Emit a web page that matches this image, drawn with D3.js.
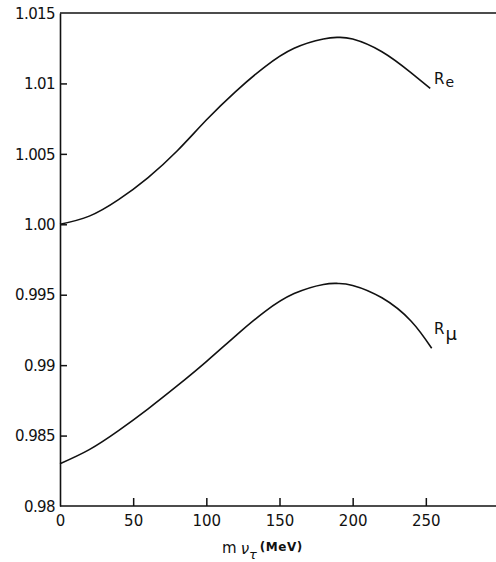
<!DOCTYPE html>
<html><head><meta charset="utf-8">
<script src="https://cdn.jsdelivr.net/npm/d3@7"></script>
<style>
html,body{margin:0;padding:0;background:#fff;}
svg{display:block;}
text{font-family:"DejaVu Sans",sans-serif;fill:#111;}
</style></head>
<body>
<script>
// Data
const massRe = [0, 20, 40, 60, 80, 100, 120, 140, 160, 180, 190, 200, 220, 240, 253];
const valRe  = [1.0000, 1.00058, 1.00175, 1.00330, 1.00520, 1.00740, 1.00942, 1.01118, 1.01250, 1.01316, 1.01327, 1.01315, 1.01225, 1.01075, 1.00965];
const massMu = [0, 20, 40, 60, 80, 100, 120, 140, 160, 180, 190, 200, 220, 240, 254];
const valMu  = [0.98300, 0.98400, 0.98535, 0.98688, 0.98852, 0.99025, 0.99208, 0.99380, 0.99508, 0.99573, 0.99580, 0.99566, 0.99478, 0.99312, 0.99120];
const yTicks = [1.015, 1.01, 1.005, 1.00, 0.995, 0.99, 0.985, 0.98];
const yTickLabels = ["1.015", "1.01", "1.005", "1.00", "0.995", "0.99", "0.985", "0.98"];
const xTicks = [0, 50, 100, 150, 200, 250];
const xTickLabels = ["0", "50", "100", "150", "200", "250"];

const W = 496, H = 562;
const svg = d3.select("body").append("svg").attr("width", W).attr("height", H);

const x = d3.scaleLinear().domain([0, 300]).range([60, 499]);
const y = d3.scaleLinear().domain([0.98, 1.015]).range([506, 13]);

// top frame line
svg.append("line").attr("x1", 60).attr("x2", W).attr("y1", y(1.015)).attr("y2", y(1.015))
  .attr("stroke", "#111").attr("stroke-width", 1.6);

// Y axis
const yAxis = d3.axisLeft(y).tickValues(yTicks)
  .tickFormat((d, i) => yTickLabels[i]).tickSize(-7).tickSizeOuter(0).tickPadding(6);
const gy = svg.append("g").attr("transform", `translate(${x(0)},0)`).call(yAxis);
gy.select(".domain").attr("stroke", "#111").attr("stroke-width", 1.6);
gy.selectAll(".tick line").attr("stroke", "#111").attr("stroke-width", 1.5)
  .attr("display", d => (d === 1.015 || d === 0.98) ? "none" : null);
gy.selectAll(".tick text").attr("font-size", 15).attr("font-family", "DejaVu Sans")
  .attr("fill", "#111").attr("x", -5).attr("dy", "0.35em").attr("letter-spacing", -0.6);

// X axis
const xAxis = d3.axisBottom(x).tickValues(xTicks)
  .tickFormat((d, i) => xTickLabels[i]).tickSize(-8).tickSizeOuter(0).tickPadding(10);
const gx = svg.append("g").attr("transform", `translate(0,${y(0.98)})`).call(xAxis);
gx.select(".domain").attr("stroke", "#111").attr("stroke-width", 1.6)
  .attr("d", `M${x(0)},0H${W}`);
gx.selectAll(".tick line").attr("stroke", "#111").attr("stroke-width", 1.5)
  .attr("display", d => d === 0 ? "none" : null);
gx.selectAll(".tick text").attr("font-size", 15).attr("font-family", "DejaVu Sans")
  .attr("fill", "#111").attr("y", 9).attr("dy", "0.71em");

// curves
const line = d3.line().x(d => x(d[0])).y(d => y(d[1])).curve(d3.curveNatural);
const reData = massRe.map((m, i) => [m, valRe[i]]);
const muData = massMu.map((m, i) => [m, valMu[i]]);
svg.append("path").attr("d", line(reData)).attr("fill", "none")
  .attr("stroke", "#111").attr("stroke-width", 1.6);
svg.append("path").attr("d", line(muData)).attr("fill", "none")
  .attr("stroke", "#111").attr("stroke-width", 1.6);

// curve labels
const reLab = svg.append("text").attr("x", 434).attr("y", 84).attr("font-size", 15);
reLab.append("tspan").text("R");
reLab.append("tspan").attr("font-size", 14).attr("dy", 3).attr("dx", 1).text("e");
const muLab = svg.append("text").attr("x", 434).attr("y", 334).attr("font-size", 15);
muLab.append("tspan").text("R");
muLab.append("tspan").attr("font-size", 18).attr("dy", 6).attr("dx", 1).text("μ");

// x-axis title
const t = svg.append("text").attr("x", 222).attr("y", 553).attr("font-size", 15);
t.append("tspan").text("m");
t.append("tspan").attr("dx", 4).attr("dy", 1).attr("font-style", "italic").text("ν");
t.append("tspan").attr("font-size", 13).attr("dy", 5).attr("font-style", "italic").text("τ");
t.append("tspan").attr("dx", 3).attr("dy", -8).attr("font-weight", "bold").attr("font-size", 12)
  .attr("letter-spacing", 0.5).text("(MeV)");
</script>
</body></html>
